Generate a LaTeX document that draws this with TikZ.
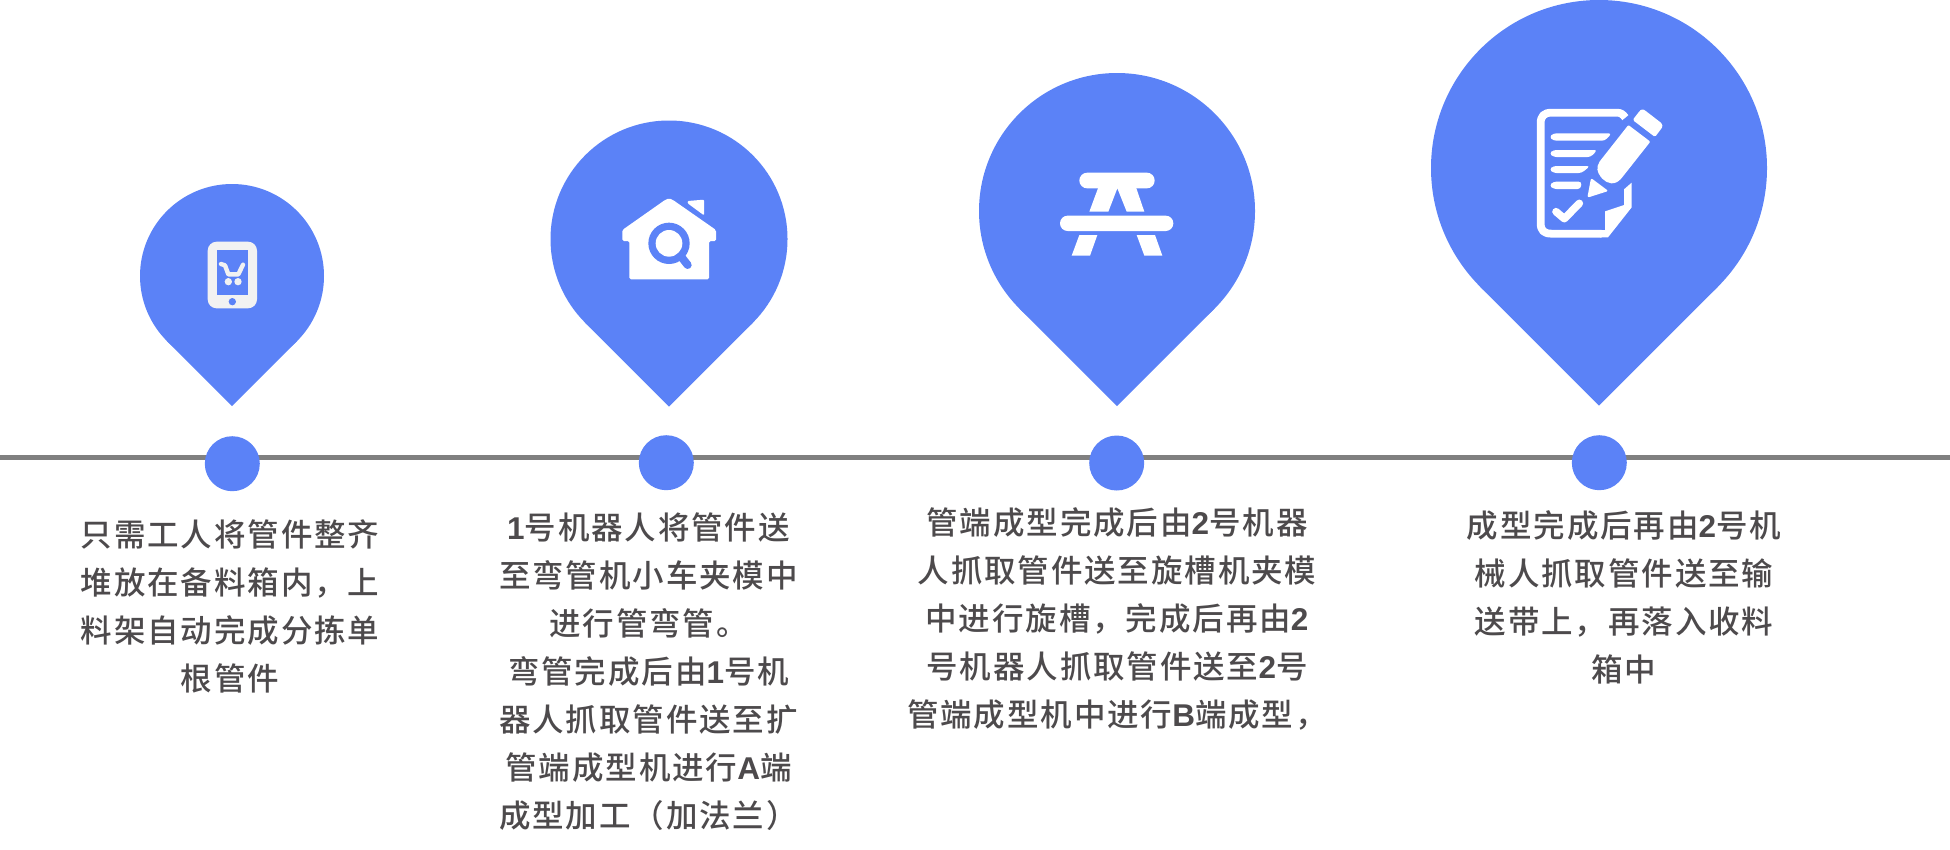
\documentclass[tikz,border=0pt]{standalone}
\usepackage{fontspec}
\newfontfamily\cjkfont[LetterSpace=6]{Noto Sans CJK SC Medium}
\newfontfamily\latfont[LetterSpace=6]{Liberation Sans Bold}
\newcommand\lat[1]{{\latfont #1}}
\definecolor{pinblue}{HTML}{5B82F7}
\definecolor{linegray}{HTML}{808080}
\definecolor{txtgray}{HTML}{4D4A4C}
\definecolor{iconlight}{HTML}{F2F2F2}
\tikzset{
  dotmark/.style={circle,fill=pinblue,inner sep=0pt,minimum size=55pt},
  bodytext/.style={align=center,text=txtgray,inner sep=0pt,font=\fontsize{31.5}{48}\selectfont\cjkfont},
  axisline/.style={draw=linegray,line width=5pt},
}
\newcommand\pinshape[3]{%
  \fill[pinblue] (#1,#2) circle[radius=#3];
  \fill[pinblue] ({#1},{#2+1.41421*#3}) -- ({#1+0.70711*#3},{#2+0.70711*#3}) -- (#1,#2) -- ({#1-0.70711*#3},{#2+0.70711*#3}) -- cycle;
}
\begin{document}
\begin{tikzpicture}[x=1pt,y=-1pt]
\useasboundingbox (0,0) rectangle (1950,849);
% axis
\coordinate (axisL) at (0,457.3);
\coordinate (axisR) at (1950,457.3);
\draw[axisline] (axisL) -- (axisR);
% pins
\pinshape{232}{276}{92}
\pinshape{669}{239}{118.5}
\pinshape{1117}{211}{138}
\pinshape{1599}{168}{168}
% dots
\node[dotmark] (d1) at (232.3,463.7) {};
\node[dotmark] (d2) at (666.3,462.7) {};
\node[dotmark] (d3) at (1116.7,463) {};
\node[dotmark] (d4) at (1599.3,462.7) {};
% icon 1 phone
\begin{scope}[shift={(120,170)},scale=1/3]
  \fill[iconlight,rounded corners=9pt] (263,215) rectangle (411,415);
  \fill[pinblue] (290,241) rectangle (385,375);
  \fill[pinblue] (337,395) circle[radius=11];
  \draw[iconlight,line width=4.4pt,line cap=round,line join=round] (303,282) -- (315,286) -- (325,313) -- (355,313) -- (369,284);
  \fill[iconlight] (325,335) circle[radius=11];
  \fill[iconlight] (354,335) circle[radius=11];
\end{scope}
% icon 2 house
\begin{scope}[shift={(590,180)},scale=1/3]
  \fill[white,rounded corners=1.5pt] (97,150) -- (225,60) -- (237,55) -- (249,60) -- (378,150) -- (378,183) -- (357,183) -- (357,298) -- (118,298) -- (118,183) -- (97,183) -- cycle;
  \fill[white,rounded corners=1pt] (293,63) -- (342,59) -- (342,106) -- (293,70) -- cycle;
  \fill[pinblue] (237,190) circle[radius=62];
  \fill[white] (237,190) circle[radius=40];
  \draw[pinblue,line width=8pt,line cap=round] (272,228) -- (293,255);
\end{scope}
% icon 3 table
\begin{scope}[shift={(1040,150)},scale=1/3]
  \fill[white,rounded corners=7.8pt] (118,68) rectangle (344,115);
  \fill[white,rounded corners=7.6pt] (60,197) rectangle (400,243);
  \fill[white] (175,112) -- (148,185) -- (205,185) -- (232,115) -- (260,185) -- (313,185) -- (288,112) -- cycle;
  \fill[white] (118,255) -- (172,255) -- (150,317) -- (95,317) -- cycle;
  \fill[white] (290,255) -- (345,255) -- (367,317) -- (313,317) -- cycle;
\end{scope}
% icon 4 document
\begin{scope}[shift={(1520,90)},scale=1/3]
  \draw[white,line width=7.8pt,line join=round] (316,83) .. controls (308,72) and (302,68) .. (290,68) -- (95,68) .. controls (72,68) and (62,78) .. (62,100) -- (62,400) .. controls (62,422) and (72,431) .. (95,431) -- (245,431);
  \fill[white] (312,298) -- (335,278) -- (335,352) -- (264,442) -- (240,442) -- (240,420) -- (255,420) -- (255,364) -- (312,345) -- cycle;
  \fill[white,rounded corners=3pt] (100,130) -- (275,130) -- (255,152) -- (100,152) -- (88,141) -- cycle;
  \fill[white,rounded corners=3pt] (100,180) -- (232,180) -- (212,201) -- (100,201) -- (88,190) -- cycle;
  \fill[white,rounded corners=3pt] (100,228) -- (210,228) -- (185,249) -- (100,249) -- (88,238) -- cycle;
  \fill[white,rounded corners=3pt] (100,275) -- (185,275) -- (182,297) -- (100,297) -- (88,286) -- cycle;
  \draw[white,line width=7.6pt,line cap=round,line join=round] (108,365) -- (133,386) -- (178,340);
  \fill[white,rounded corners=1pt] (325,105) -- (391,155) -- (305,264) .. controls (285,287) and (262,282) .. (245,264) .. controls (231,247) and (228,232) .. (240,213) -- cycle;
  \fill[white,rounded corners=1.5pt] (338,90) -- (358,64) .. controls (364,58) and (370,58) .. (376,62) -- (420,96) .. controls (428,103) and (428,110) .. (423,117) -- (405,141) -- cycle;
  \fill[white,rounded corners=2pt] (213,264) -- (265,303) -- (202,323) -- cycle;
\end{scope}
% texts
\node[bodytext] (t1) at (230,606) {只需工人将管件整齐\\堆放在备料箱内，上\\料架自动完成分拣单\\根管件};
\node[bodytext] (t2) at (648.5,672) {\lat{1}号机器人将管件送\\至弯管机小车夹模中\\进行管弯管。\\弯管完成后由\lat{1}号机\\器人抓取管件送至扩\\管端成型机进行\lat{A}端\\成型加工（加法兰）};
\node[bodytext] (t3) at (1117,619) {管端成型完成后由\lat{2}号机器\\人抓取管件送至旋槽机夹模\\中进行旋槽，完成后再由\lat{2}\\号机器人抓取管件送至\lat{2}号\\管端成型机中进行\lat{B}端成型，};
\node[bodytext] (t4) at (1624,597) {成型完成后再由\lat{2}号机\\械人抓取管件送至输\\送带上，再落入收料\\箱中};
\end{tikzpicture}
\end{document}
